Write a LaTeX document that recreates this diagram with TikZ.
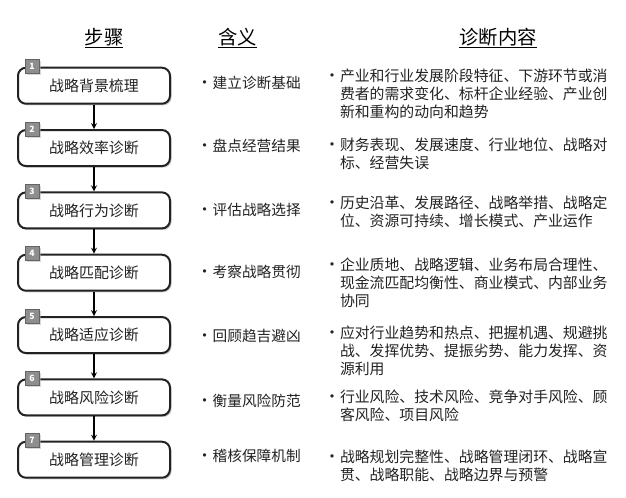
\documentclass[tikz,border=0pt]{standalone}
\usepackage{fontspec}
\setmainfont{Noto Sans CJK SC}
\usetikzlibrary{shadows}
\definecolor{inkgray}{HTML}{222222}
\definecolor{badgegray}{HTML}{8E8E8E}
\newcommand{\itm}{\makebox[0pt][r]{\fontsize{12}{12}\selectfont •}}
\begin{document}
\begin{tikzpicture}[->,>=stealth,shorten >=0pt,auto,node distance=46.75pt,line width=1pt,
    box node/.style={draw=inkgray,line width=1.5pt,rounded corners=6pt,fill=white,minimum width=114pt,minimum height=27pt,inner sep=0pt,text=inkgray,font=\fontsize{11.2}{13}\selectfont,drop shadow={shadow xshift=1.2pt,shadow yshift=-1.2pt,fill=black!40}},
    num node/.style={draw=badgegray!70!black,line width=0.4pt,fill=badgegray,minimum size=10.5pt,inner sep=0pt,text=white,font=\fontsize{6.5}{7}\bfseries\selectfont,drop shadow={shadow xshift=1.2pt,shadow yshift=-1.2pt,fill=black!30}},
    head node/.style={text=black,inner sep=0pt,font=\fontsize{14.5}{16}\selectfont},
    mean node/.style={anchor=west,inner sep=0pt,text=inkgray,font=\fontsize{11}{13}\selectfont},
    cont node/.style={anchor=north west,inner sep=0pt,align=left,text=inkgray,font=\fontsize{11.15}{13.5}\selectfont}]
    \useasboundingbox (0,0) rectangle (469.5pt,-373.5pt);

    \node[head node] (h1) at (78pt,-28.5pt) {\underline{步骤}};
    \node[head node] (h2) at (178pt,-28.5pt) {\underline{含义}};
    \node[head node] (h3) at (373.5pt,-28.5pt) {\underline{诊断内容}};

    \node[box node] (1) at (70.5pt,-64.3pt) {战略背景梳理};
    \node[box node] (2) [below of = 1] {战略效率诊断};
    \node[box node] (3) [below of = 2] {战略行为诊断};
    \node[box node] (4) [below of = 3] {战略匹配诊断};
    \node[box node] (5) [below of = 4] {战略适应诊断};
    \node[box node] (6) [below of = 5] {战略风险诊断};
    \node[box node] (7) [below of = 6] {战略管理诊断};

    \node[num node] (n1) at ([xshift=-46.5pt]1.north) {1};
    \node[num node] (n2) at ([xshift=-46.5pt]2.north) {2};
    \node[num node] (n3) at ([xshift=-46.5pt]3.north) {3};
    \node[num node] (n4) at ([xshift=-46.5pt]4.north) {4};
    \node[num node] (n5) at ([xshift=-46.5pt]5.north) {5};
    \node[num node] (n6) at ([xshift=-46.5pt]6.north) {6};
    \node[num node] (n7) at ([xshift=-46.5pt]7.north) {7};

    \node[mean node] (a) at (159pt,-62.5pt) {\itm 建立诊断基础};
    \node[mean node] (b) at (159pt,-109.5pt) {\itm 盘点经营结果};
    \node[mean node] (c) at (159pt,-157.5pt) {\itm 评估战略选择};
    \node[mean node] (d) at (159pt,-204pt) {\itm 考察战略贯彻};
    \node[mean node] (e) at (159pt,-252pt) {\itm 回顾趋吉避凶};
    \node[mean node] (f) at (159pt,-301pt) {\itm 衡量风险防范};
    \node[mean node] (g) at (159pt,-342pt) {\itm 稽核保障机制};

    \node[cont node] (p) at (254.5pt,-51.3pt) {\itm 产业和行业发展阶段特征、下游环节或消\\费者的需求变化、标杆企业经验、产业创\\新和重构的动向和趋势};
    \node[cont node] (q) at (254.5pt,-103pt) {\itm 财务表现、发展速度、行业地位、战略对\\标、经营失误};
    \node[cont node] (r) at (254.5pt,-146.5pt) {\itm 历史沿革、发展路径、战略举措、战略定\\位、资源可持续、增长模式、产业运作};
    \node[cont node] (s) at (254.5pt,-193pt) {\itm 企业质地、战略逻辑、业务布局合理性、\\现金流匹配均衡性、商业模式、内部业务\\协同};
    \node[cont node] (t) at (254.5pt,-244pt) {\itm 应对行业趋势和热点、把握机遇、规避挑\\战、发挥优势、提振劣势、能力发挥、资\\源利用};
    \node[cont node] (u) at (254.5pt,-292pt) {\itm 行业风险、技术风险、竞争对手风险、顾\\客风险、项目风险};
    \node[cont node] (v) at (254.5pt,-337pt) {\itm 战略规划完整性、战略管理闭环、战略宣\\贯、战略职能、战略边界与预警};

    \path
        (1) edge (2)
        (2) edge (3)
        (3) edge (4)
        (4) edge (5)
        (5) edge (6)
        (6) edge (7)
        ;
\end{tikzpicture}
\end{document}
